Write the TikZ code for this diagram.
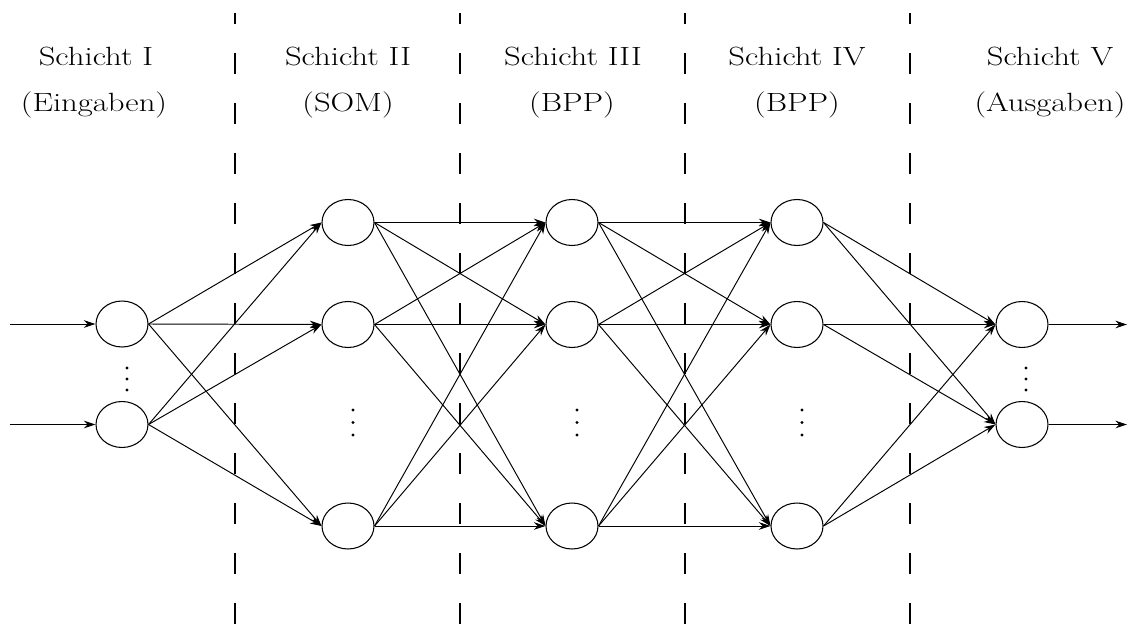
\documentclass[tikz,border=0pt]{standalone}
\usepackage{graphicx}
\usetikzlibrary{shapes.geometric,arrows.meta}
\newcommand\lbltext[1]{\scalebox{1.24}[1]{#1}}
\begin{document}
\begin{tikzpicture}[x=0.02cm,y=-0.02cm,
  neuron/.style={draw,ellipse,line width=0.6pt,minimum width=1.04cm,minimum height=0.92cm,inner sep=0pt},
  conn/.style={line width=0.55pt,-{Stealth[length=0.23cm,width=0.15cm]}},
  sep/.style={line width=0.6pt,dash pattern=on 0.42cm off 0.58cm,dash phase=0.2cm},
  lbl/.style={font=\fontsize{15}{18}\selectfont,anchor=base,inner sep=0pt}]
\useasboundingbox (0,0) rectangle (1128,625);
\fill[white] (0,0) rectangle (1128,625);
% separators
\foreach \x/\n in {235/1,460/2,685/3,910/4}{
  \coordinate (s\n t) at (\x,13);
  \coordinate (s\n b) at (\x,625);
  \draw[sep] (s\n t) -- (s\n b);
}
% labels
\node[lbl] (t1) at (96,66) {\lbltext{Schicht I}};
\node[lbl] (u1) at (94,112) {\lbltext{(Eingaben)}};
\node[lbl] (t2) at (348,66) {\lbltext{Schicht II}};
\node[lbl] (u2) at (348,112) {\lbltext{(SOM)}};
\node[lbl] (t3) at (573,66) {\lbltext{Schicht III}};
\node[lbl] (u3) at (572,112) {\lbltext{(BPP)}};
\node[lbl] (t4) at (797,66) {\lbltext{Schicht IV}};
\node[lbl] (u4) at (797,112) {\lbltext{(BPP)}};
\node[lbl] (t5) at (1050,66) {\lbltext{Schicht V}};
\node[lbl] (u5) at (1050,112) {\lbltext{(Ausgaben)}};
% neurons
\node[neuron] (a1) at (122,324) {};
\node[neuron] (a2) at (122,424.5) {};
\foreach \l/\x in {b/348,c/572,d/797}{
  \node[neuron] (\l1) at (\x,222.5) {};
  \node[neuron] (\l2) at (\x,324.5) {};
  \node[neuron] (\l3) at (\x,526) {};
}
\node[neuron] (e1) at (1022,324.5) {};
\node[neuron] (e2) at (1022,424.5) {};
% dots
\foreach \y in {368,379,390}{\fill (127,\y) circle (0.9pt); \fill (1026,\y) circle (0.9pt);}
\foreach \y in {410,422.5,435}{\fill (353,\y) circle (0.9pt); \fill (577,\y) circle (0.9pt); \fill (802,\y) circle (0.9pt);}
% inputs / outputs
\coordinate (in1) at (10,324);
\coordinate (in2) at (10,424.5);
\coordinate (out1) at (1127,324.5);
\coordinate (out2) at (1127,424.5);
\draw[conn] (in1) -- (a1.west);
\draw[conn] (in2) -- (a2.west);
\draw[conn] (e1.east) -- (out1);
\draw[conn] (e2.east) -- (out2);
% connections
\foreach \i in {1,2}{\foreach \j in {1,2,3}{\draw[conn] (a\i.east) -- (b\j.west);}}
\foreach \i in {1,2,3}{\foreach \j in {1,2,3}{
  \draw[conn] (b\i.east) -- (c\j.west);
  \draw[conn] (c\i.east) -- (d\j.west);}}
\foreach \i in {1,2,3}{\foreach \j in {1,2}{\draw[conn] (d\i.east) -- (e\j.west);}}
\end{tikzpicture}
\end{document}
